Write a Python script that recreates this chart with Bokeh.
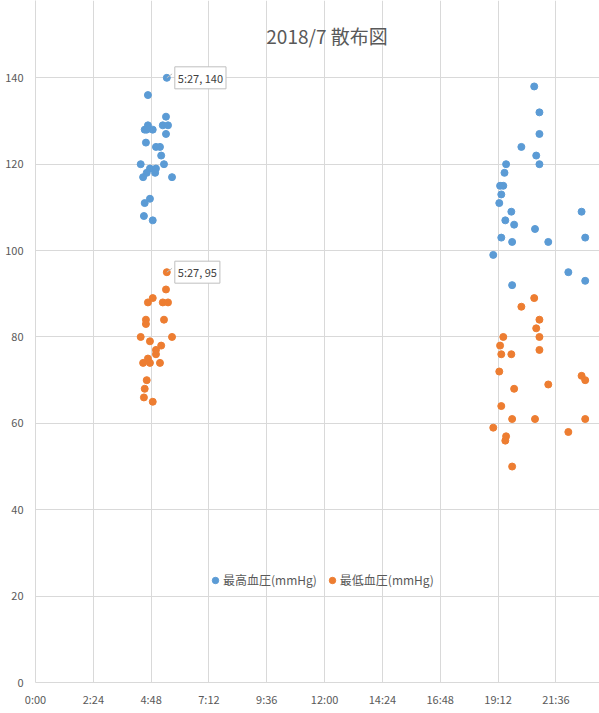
from bokeh.plotting import figure
from bokeh.models import (ColumnDataSource, FixedTicker, Label, Legend, LegendItem, Range1d)
from bokeh.embed import file_html
from bokeh.resources import INLINE

title_text = "2018/7 散布図"
series_names = ["最高血圧(mmHg)", "最低血圧(mmHg)"]
tick_hours = [0, 2.4, 4.8, 7.2, 9.6, 12.0, 14.4, 16.8, 19.2, 21.6]
tick_labels = ["0:00", "2:24", "4:48", "7:12", "9:36", "12:00", "14:24", "16:48", "19:12", "21:36"]
y_ticks = [0, 20, 40, 60, 80, 100, 120, 140]

high_times = ["5:27", "4:40", "5:25", "5:17", "5:30", "4:40", "4:32", "4:37", "4:52", "5:25",
              "4:35", "5:00", "5:10", "5:13", "4:22", "5:20", "4:45", "5:00", "4:37", "4:58",
              "4:28", "5:40", "4:45", "4:32", "4:30", "4:52",
              "20:42", "20:55", "20:55", "20:10", "20:47", "19:32", "20:55", "19:28", "19:17", "19:25",
              "19:20", "19:15", "19:45", "22:40", "19:30", "19:52", "20:44", "19:20", "22:49", "19:47",
              "21:17", "19:00", "22:07", "22:49", "19:47"]
high_values = [140, 136, 131, 129, 129, 129, 128, 128, 128, 127,
               125, 124, 124, 122, 120, 120, 119, 119, 118, 118,
               117, 117, 112, 111, 108, 107,
               138, 132, 127, 124, 122, 120, 120, 118, 115, 115,
               113, 111, 109, 109, 107, 106, 105, 103, 103, 102,
               102, 99, 95, 93, 92]

low_times = ["5:27", "5:25", "4:40", "4:52", "5:17", "5:30", "5:20", "4:35", "4:35", "4:22",
             "5:40", "4:45", "5:13", "5:00", "5:00", "4:40", "4:28", "4:45", "5:10", "4:37",
             "4:32", "4:30", "4:52",
             "20:42", "20:10", "20:55", "20:47", "19:25", "20:55", "19:17", "19:20", "19:45", "20:55",
             "19:15", "22:40", "22:49", "21:17", "19:52", "19:20", "19:47", "20:44", "22:49", "19:00",
             "22:07", "19:32", "19:30", "19:47"]
low_values = [95, 91, 88, 89, 88, 88, 84, 84, 83, 80,
              80, 79, 78, 77, 76, 75, 74, 74, 74, 70,
              68, 66, 65,
              89, 87, 84, 82, 80, 80, 78, 76, 76, 77,
              72, 71, 70, 69, 68, 64, 61, 61, 61, 59,
              58, 57, 56, 50]

label_points = [("5:27", 140, "5:27, 140"), ("5:27", 95, "5:27, 95")]


def to_hours(t):
    h, m = t.split(":")
    return int(h) + int(m) / 60.0


BLUE = "#5B9BD5"
ORANGE = "#ED7D31"
GRID = "#D9D9D9"
TXT = "#595959"
JP = "Noto Sans CJK JP"

p = figure(width=599, height=713, output_backend="svg", toolbar_location=None,
           x_range=Range1d(0, 23.41), y_range=Range1d(0, 157.9),
           min_border_left=35, min_border_right=0, min_border_top=0, min_border_bottom=31)
p.outline_line_color = None
p.background_fill_color = "white"

p.xaxis.ticker = FixedTicker(ticks=tick_hours)
p.xaxis.major_label_overrides = {t: l for t, l in zip(tick_hours, tick_labels)}
p.yaxis.ticker = FixedTicker(ticks=y_ticks)
for ax in (p.xaxis[0], p.yaxis[0]):
    ax.axis_line_color = GRID
    ax.major_tick_line_color = None
    ax.minor_tick_line_color = None
    ax.major_tick_out = 0
    ax.major_tick_in = 0
    ax.minor_tick_out = 0
    ax.major_label_text_color = TXT
    ax.major_label_text_font = JP
    ax.major_label_text_font_size = "11px"
p.xaxis.major_label_standoff = 8
p.yaxis.major_label_standoff = 12

p.xgrid.ticker = FixedTicker(ticks=tick_hours)
p.ygrid.ticker = FixedTicker(ticks=y_ticks)
p.xgrid.grid_line_color = GRID
p.ygrid.grid_line_color = GRID

src_h = ColumnDataSource(dict(x=[to_hours(t) for t in high_times], y=high_values))
src_l = ColumnDataSource(dict(x=[to_hours(t) for t in low_times], y=low_values))
r_h = p.scatter("x", "y", source=src_h, size=7, color=BLUE, line_color=BLUE)
r_l = p.scatter("x", "y", source=src_l, size=7, color=ORANGE, line_color=ORANGE)

# data labels
for t, v, txt in label_points:
    xh = to_hours(t)
    lab = Label(x=xh, y=v, x_offset=8, y_offset=0, text=txt, text_font=JP,
                text_font_size="11px", text_color="#404040", text_baseline="middle",
                background_fill_color="white", border_line_color="#BFBFBF",
                border_line_width=1, padding=3)
    p.add_layout(lab)
    p.segment(x0=[xh], y0=[v], x1=[xh + 0.22], y1=[v + 0.9], line_color="#BFBFBF", line_width=1)

p.add_layout(Label(x=12.1, y=149.7, text=title_text, text_font=JP, text_font_size="19px",
                   text_color=TXT, text_align="center", text_baseline="middle"))

legend = Legend(items=[LegendItem(label=series_names[0], renderers=[r_h]),
                       LegendItem(label=series_names[1], renderers=[r_l])],
                orientation="horizontal", location=(172, 94), padding=0, margin=0,
                spacing=7, glyph_width=16, glyph_height=16, label_standoff=0,
                label_height=16, label_text_font=JP, label_text_font_size="12px",
                label_text_color=TXT, background_fill_alpha=0, border_line_color=None)
p.add_layout(legend)

open("out.html", "w").write(file_html(p, INLINE))
